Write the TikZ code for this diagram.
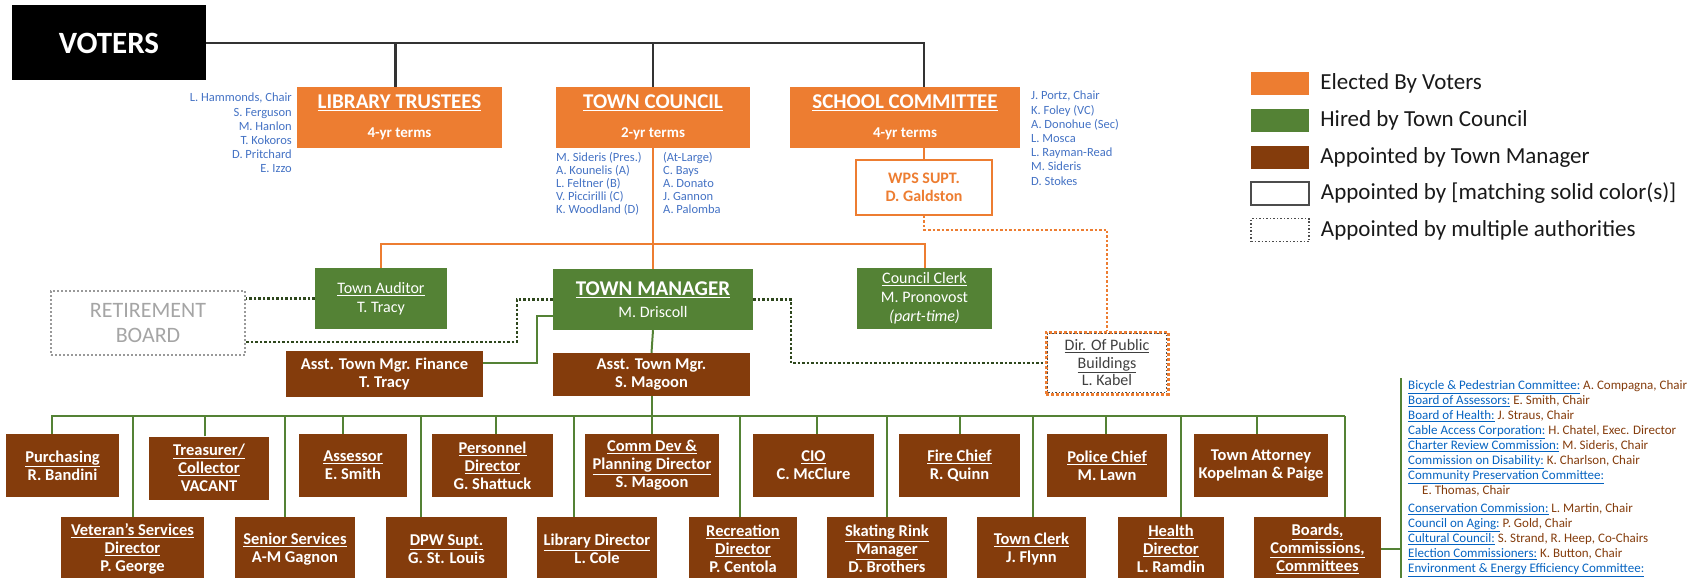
\documentclass[tikz,border=0pt]{standalone}
\usepackage{fontspec}
\setmainfont{Carlito}
\usetikzlibrary{positioning}

\definecolor{elOrange}{HTML}{ED7D31}
\definecolor{hiGreen}{HTML}{548235}
\definecolor{apBrown}{HTML}{843C0C}
\definecolor{nameBlue}{HTML}{4472C4}
\definecolor{linkBlue}{HTML}{0563C1}
\definecolor{rbGray}{HTML}{A5A5A5}

\newcommand{\fsz}[2]{\fontsize{#1}{#2}\selectfont}
\newcommand{\lnk}[1]{\textcolor{linkBlue}{\underline{#1}}}

\begin{document}
\begin{tikzpicture}[x = 1pt, y = -1pt,
  elected/.style = {fill=elOrange, text=white, align=center, font=\bfseries\fsz{21}{25}, minimum height=61, inner sep=0pt},
  hired/.style = {fill=hiGreen, text=white, align=center, font=\fsz{16}{18.5}, minimum height=61, inner sep=0pt},
  appointed/.style = {fill=apBrown, text=white, align=center, font=\bfseries\fsz{16.5}{18}, inner sep=0pt},
  toprow/.style = {appointed, minimum height=63},
  lowrow/.style = {appointed, minimum height=64},
  names/.style = {text=nameBlue, font=\fsz{12.5}{14.2}, inner sep=0pt},
  swatch/.style = {minimum width=58, minimum height=23, inner sep=0pt},
  keytext/.style = {font=\fsz{23}{27}, inner sep=0pt, text=black!90},
  blackline/.style = {line width=2.7pt, black!80},
  orangeline/.style = {line width=2pt, elOrange},
  greenline/.style = {line width=2pt, hiGreen},
  greendots/.style = {line width=2.5pt, hiGreen!55!black, dotted},
  orangedots/.style = {line width=2.5pt, elOrange, dotted}]
\useasboundingbox (0,0) rectangle (1692,578);
\clip (0,0) rectangle (1692,578);

% Elected
\node[fill=black, text=white, font=\bfseries\fsz{31}{36}, minimum width=194, minimum height=75] (voters) at (109,43) {VOTERS};
\node[elected, minimum width=205] (libTrustees) at (399.5,117.5) {\underline{LIBRARY TRUSTEES}\\[4pt]{\fsz{15}{18}4-yr terms}};
\node[elected, minimum width=194] (townCouncil) at (653,117.5) {\underline{TOWN COUNCIL}\\[4pt]{\fsz{15}{18}2-yr terms}};
\node[elected, minimum width=230] (schoolCmte) at (905,117.5) {\underline{SCHOOL COMMITTEE}\\[4pt]{\fsz{15}{18}4-yr terms}};

\node[names, anchor=north east, align=right] (ltNames) at (292,93) {L. Hammonds, Chair\\S. Ferguson\\M. Hanlon\\T. Kokoros\\D. Pritchard\\E. Izzo};
\node[names, anchor=north west, align=left, font=\fsz{12.5}{13}] (tcNamesA) at (556,152) {M. Sideris (Pres.)\\A. Kounelis (A)\\L. Feltner (B)\\V. Piccirilli (C)\\K. Woodland (D)};
\node[names, anchor=north west, align=left, font=\fsz{12.5}{13}] (tcNamesB) at (663,152) {(At-Large)\\C. Bays\\A. Donato\\J. Gannon\\A. Palomba};
\node[names, anchor=north west, align=left] (scNames) at (1031,91) {J. Portz, Chair\\K. Foley (VC)\\A. Donohue (Sec)\\L. Mosca\\L. Rayman-Read\\M. Sideris\\D. Stokes};

\node[draw=elOrange, line width=1.5pt, fill=white, text=elOrange, font=\bfseries\fsz{16}{18}, align=center, minimum width=136, minimum height=55, inner sep=0pt] (wps) at (924,187.5) {WPS SUPT.\\D. Galdston};

% Hired by council
\node[hired, minimum width=132] (auditor) at (381,298.5) {\underline{Town Auditor}\\T. Tracy};
\node[hired, minimum width=200] (townMgr) at (653,299.5) {{\bfseries\fsz{21}{25}\underline{TOWN MANAGER}}\\[3pt]M. Driscoll};
\node[hired, minimum width=135, font=\fsz{16}{19}] (clerk) at (924.5,298.5) {\underline{Council Clerk}\\M. Pronovost\\\textit{(part-time)}};

\node[draw=gray!80, dotted, line width=2pt, text=rbGray, font=\fsz{22}{25}, align=center, minimum width=194, minimum height=64, inner sep=0pt] (retire) at (148,323) {RETIREMENT\\BOARD};
\node[draw=elOrange, dotted, line width=3pt, fill=white, text=black!75, font=\fsz{16}{17.5}, align=center, minimum width=122, minimum height=62, inner sep=0pt] (pubBldg) at (1107,363) {\underline{Dir. Of Public}\\\underline{Buildings}\\L. Kabel};
\draw[dotted, line width=1.5pt, black!70] ([shift={(3,3)}]pubBldg.north west) rectangle ([shift={(-3,-3)}]pubBldg.south east);

\node[appointed, minimum width=197, minimum height=46] (finMgr) at (384.5,374) {Asst. Town Mgr. Finance\\T. Tracy};
\node[appointed, minimum width=197, minimum height=43] (asstMgr) at (651.5,374.5) {Asst. Town Mgr.\\S. Magoon};

% Appointed by manager, top row
\node[toprow, minimum width=113] (purch) at (62.5,465.5) {\underline{Purchasing}\\R. Bandini};
\node[toprow, minimum width=120] (treas) at (209,468) {\underline{Treasurer/}\\\underline{Collector}\\VACANT};
\node[toprow, minimum width=108] (assess) at (353,465.5) {\underline{Assessor}\\E. Smith};
\node[toprow, minimum width=121] (pers) at (492.5,465.5) {\underline{Personnel}\\\underline{Director}\\G. Shattuck};
\node[toprow, minimum width=134] (commDev) at (652,465.5) {\underline{Comm Dev \&}\\\underline{Planning Director}\\S. Magoon};
\node[toprow, minimum width=121] (cio) at (813.5,465.5) {\underline{CIO}\\C. McClure};
\node[toprow, minimum width=121] (fire) at (959.5,465.5) {\underline{Fire Chief}\\R. Quinn};
\node[toprow, minimum width=120] (police) at (1107,465.5) {\underline{Police Chief}\\M. Lawn};
\node[toprow, minimum width=134] (attorney) at (1261,465.5) {Town Attorney\\Kopelman \& Paige};

% bottom row
\node[lowrow, minimum width=143] (veteran) at (132.5,549) {\underline{Veteran’s Services}\\\underline{Director}\\P. George};
\node[lowrow, minimum width=120] (senior) at (295,549) {\underline{Senior Services}\\A-M Gagnon};
\node[lowrow, minimum width=121] (dpw) at (446.5,549) {\underline{DPW Supt.}\\G. St. Louis};
\node[lowrow, minimum width=120] (library) at (597,549) {\underline{Library Director}\\L. Cole};
\node[lowrow, minimum width=108] (recreation) at (743,549) {\underline{Recreation}\\\underline{Director}\\P. Centola};
\node[lowrow, minimum width=120] (skating) at (887,549) {\underline{Skating Rink}\\\underline{Manager}\\D. Brothers};
\node[lowrow, minimum width=109] (townClerk) at (1031.5,549) {\underline{Town Clerk}\\J. Flynn};
\node[lowrow, minimum width=106] (health) at (1171,549) {\underline{Health}\\\underline{Director}\\L. Ramdin};
\node[lowrow, minimum width=127] (boards) at (1317.5,549) {\underline{Boards,}\\\underline{Commissions,}\\\underline{Committees}};

\node[anchor=north west, align=left, inner sep=0pt, font=\fsz{13}{15}, text=apBrown] (boardList) at (1408,380) {\lnk{Bicycle \& Pedestrian Committee:} A. Compagna, Chair\\
\lnk{Board of Assessors:} E. Smith, Chair\\
\lnk{Board of Health:} J. Straus, Chair\\
\lnk{Cable Access Corporation:} H. Chatel, Exec. Director\\
\lnk{Charter Review Commission:} M. Sideris, Chair\\
\lnk{Commission on Disability:} K. Charlson, Chair\\
\lnk{Community Preservation Committee:}\\
\hspace*{14pt}E. Thomas, Chair\\[3pt]
\lnk{Conservation Commission:} L. Martin, Chair\\
\lnk{Council on Aging:} P. Gold, Chair\\
\lnk{Cultural Council:} S. Strand, R. Heep, Co-Chairs\\
\lnk{Election Commissioners:} K. Button, Chair\\
\lnk{Environment \& Energy Efficiency Committee:}};

% Legend
\node[swatch, fill=elOrange] (keyElect) at (1280,83.5) {};
\node[swatch, fill=hiGreen] (keyHired) at (1280,120) {};
\node[swatch, fill=apBrown] (keyAppt) at (1280,157.5) {};
\node[swatch, draw=black!70, line width=1.5pt] (keyMatch) at (1280,193.5) {};
\node[swatch, draw=black!70, line width=1.5pt, dotted] (keyMulti) at (1280,230) {};
\node[keytext, right=11pt of keyElect] {Elected By Voters};
\node[keytext, right=11pt of keyHired] {Hired by Town Council};
\node[keytext, right=11pt of keyAppt] {Appointed by Town Manager};
\node[keytext, right=11pt of keyMatch] {Appointed by [matching solid color(s)]};
\node[keytext, right=11pt of keyMulti] {Appointed by multiple authorities};

% Voters to elected boards
\draw[blackline] (voters.east) -| ([xshift=19]schoolCmte.north);
\draw[blackline] ([xshift=-4]libTrustees.north) -- ([xshift=-4]libTrustees.north |- voters.east);
\draw[blackline] (townCouncil.north) -- (townCouncil.north |- voters.east);

% Council and school committee
\coordinate (orangeBus) at (653,244);
\draw[orangeline] (townCouncil.south) -- (townMgr.north);
\draw[orangeline] (auditor.north) -- (auditor.north |- orangeBus) -- (clerk.north |- orangeBus) -- (clerk.north);
\draw[orangeline] (wps.north |- schoolCmte.south) -- (wps.north);
\draw[orangedots] (wps.south) -- ++(0,14) -| (pubBldg.north);

% Multiple authorities
\draw[greendots] (auditor.west) -- (auditor.west -| retire.east);
\draw[greendots] (townMgr.west) -- ++(-36,0) |- ([shift={(0,19)}]retire.east);
\draw[greendots] (townMgr.east) -- ++(38,0) |- (pubBldg.west);

% Manager's staff
\draw[greenline] ([shift={(0,16)}]townMgr.west) -- ++(-16,0) |- ([shift={(0,-11)}]finMgr.east);
\draw[greenline] (townMgr.south) -- (asstMgr.north);
\coordinate (busL) at (51,416);
\coordinate (busR) at (1345,416);
\draw[greenline] (busL) -- (busR);
\draw[greenline] (asstMgr.south) -- (asstMgr.south |- busL);
\foreach \n/\dx in {purch/-11, treas/-4, assess/-10, pers/3, commDev/0, cio/3, fire/0, police/-1, attorney/-4,
  veteran/0, senior/-10, dpw/-26, library/-23, recreation/-3, skating/0, townClerk/1, health/10, boards/27}
  \draw[greenline] ([xshift=\dx]\n.north) -- ([xshift=\dx]\n.north |- busL);
\coordinate (listTop) at (1401,378);
\coordinate (listBot) at (1401,590);
\draw[greenline] (listTop) -- (listBot);
\draw[greenline] (boards.east) -- (boards.east -| listTop);
\end{tikzpicture}
\end{document}
